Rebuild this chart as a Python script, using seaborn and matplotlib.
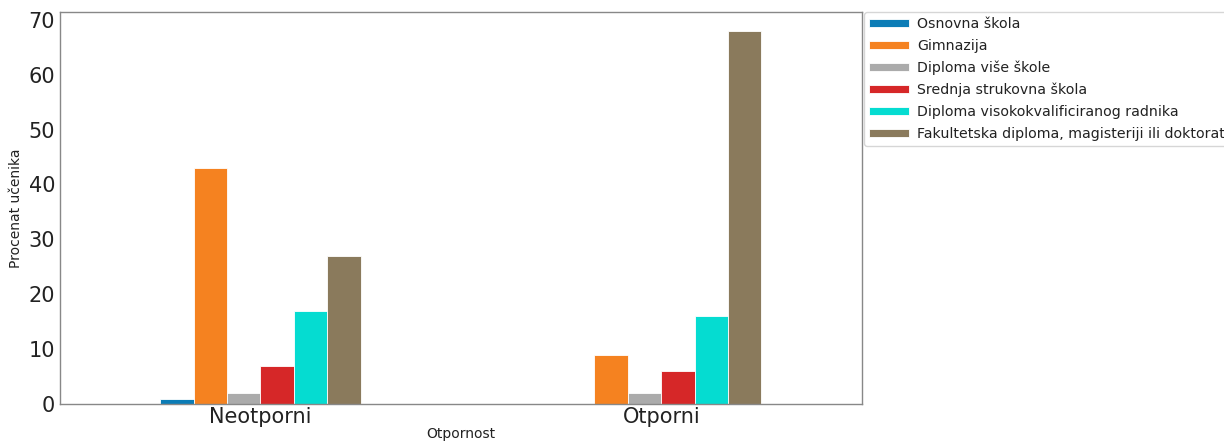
import pandas as pd
import seaborn as sns
import matplotlib.pyplot as plt

groups = ["Neotporni", "Otporni"]
levels = [
    "Osnovna škola",
    "Gimnazija",
    "Diploma više škole",
    "Srednja strukovna škola",
    "Diploma visokokvalificiranog radnika",
    "Fakultetska diploma, magisteriji ili doktorat",
]
neotporni = [1, 43, 2, 7, 17, 27]
otporni = [0, 9, 2, 6, 16, 68]
colors = ["#0b7cb6", "#f58220", "#ababab", "#d62728", "#05dcd1", "#8a7a5c"]

df = pd.DataFrame({
    "Otpornost": [groups[0]] * len(levels) + [groups[1]] * len(levels),
    "Obrazovanje": levels * 2,
    "Procenat": neotporni + otporni,
})

sns.set_style("white")
plt.rcParams["font.family"] = ["DejaVu Sans"]
fig = plt.figure(figsize=(12.24, 4.45), dpi=100)
ax = fig.add_axes([0.049, 0.092, 0.655, 0.881])

sns.barplot(data=df, x="Otpornost", y="Procenat", hue="Obrazovanje",
            hue_order=levels, palette=colors, saturation=1, width=0.5, gap=0,
            edgecolor="white", linewidth=0.6, ax=ax)

ax.set_xlim(-0.5, 1.5)
ax.set_ylim(0, 71.4)
ax.set_xlabel("Otpornost", fontsize=10, color="#222222", labelpad=0)
ax.set_ylabel("Procenat učenika", fontsize=10, color="#222222")
ax.tick_params(axis="both", labelsize=15, length=0, labelcolor="#222222")
ax.tick_params(axis="x", pad=2)
for s in ax.spines.values():
    s.set_color("#888888")
    s.set_linewidth(1)

leg = ax.legend(loc="upper left", bbox_to_anchor=(1.003, 1.0), fontsize=10.2,
                frameon=True, title=None, handlelength=2.8, handleheight=0.5,
                handletextpad=0.6, labelspacing=0.55, borderpad=0.35,
                borderaxespad=0)
for t in leg.get_texts():
    t.set_color("#222222")

plt.savefig("out.png", dpi=100)
plt.close()
